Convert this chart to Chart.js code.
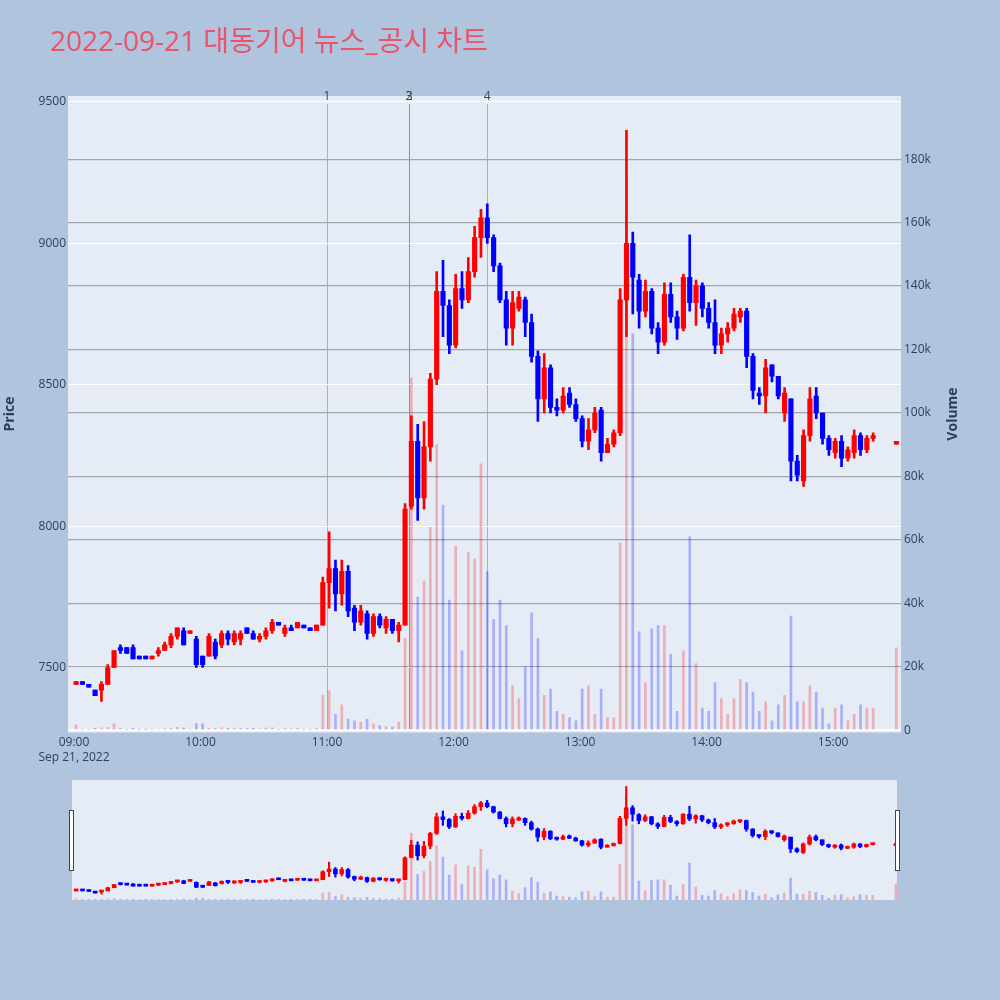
<!DOCTYPE html>
<html><head><meta charset="utf-8">
<script src="https://cdn.jsdelivr.net/npm/chart.js@4.4.0/dist/chart.umd.min.js"></script>
<style>
html,body{margin:0;padding:0;background:#B0C4DE;}
#wrap{position:relative;width:1000px;height:1000px;overflow:hidden;}
canvas{position:absolute;}
</style></head>
<body><div id="wrap">
<canvas id="main" width="1000" height="1000" style="left:0;top:0;width:1000px;height:1000px;"></canvas>
<canvas id="nav" width="850" height="130" style="left:60px;top:775px;width:850px;height:130px;"></canvas>
</div>
<script>
const chartTitle = '2022-09-21 대동기어 뉴스_공시 차트';
const dateLabel = 'Sep 21, 2022';
const priceTitle = 'Price';
const volumeTitle = 'Volume';

// representative minute of each (3-minute) candle
const times = [
 '09:01','09:04','09:07','09:10','09:13','09:16','09:19','09:22','09:25','09:28','09:31','09:34','09:37','09:40','09:43','09:46','09:49','09:52','09:55','09:58',
 '10:01','10:04','10:07','10:10','10:13','10:16','10:19','10:22','10:25','10:28','10:31','10:34','10:37','10:40','10:43','10:46','10:49','10:52','10:55','10:58',
 '11:01','11:04','11:07','11:10','11:13','11:16','11:19','11:22','11:25','11:28','11:31','11:34','11:37','11:40','11:43','11:46','11:49','11:52','11:55','11:58',
 '12:01','12:04','12:07','12:10','12:13','12:16','12:19','12:22','12:25','12:28','12:31','12:34','12:37','12:40','12:43','12:46','12:49','12:52','12:55','12:58',
 '13:01','13:04','13:07','13:10','13:13','13:16','13:19','13:22','13:25','13:28','13:31','13:34','13:37','13:40','13:43','13:46','13:49','13:52','13:55','13:58',
 '14:01','14:04','14:07','14:10','14:13','14:16','14:19','14:22','14:25','14:28','14:31','14:34','14:37','14:40','14:43','14:46','14:49','14:52','14:55','14:58',
 '15:01','15:04','15:07','15:10','15:13','15:16','15:19','15:30'
];
const opens = [
 7440,7450,7440,7420,7420,7440,7500,7570,7570,7570,7540,7540,7530,7550,7560,7580,7610,7630,7620,7600,
 7540,7540,7590,7580,7620,7590,7600,7640,7620,7600,7610,7630,7660,7620,7640,7640,7650,7640,7630,7650,
 7800,7850,7760,7840,7710,7660,7690,7620,7680,7640,7670,7630,7650,8070,8300,8100,8280,8520,8830,8780,
 8640,8840,8800,8900,9020,9090,9020,8920,8800,8700,8770,8800,8720,8600,8450,8560,8420,8410,8470,8430,
 8380,8300,8340,8410,8260,8290,8330,8800,9000,8870,8760,8830,8700,8650,8820,8740,8700,8880,8790,8850,
 8770,8720,8640,8680,8700,8740,8760,8600,8470,8460,8570,8530,8400,8450,8230,8160,8320,8460,8400,8310,
 8260,8300,8240,8260,8320,8270,8310,8290
];
const highs = [
 7450,7450,7440,7420,7450,7510,7560,7580,7570,7580,7540,7540,7540,7570,7590,7620,7640,7640,7630,7610,
 7540,7620,7600,7630,7630,7630,7630,7640,7630,7620,7640,7670,7660,7650,7650,7660,7650,7640,7650,7820,
 7980,7880,7880,7860,7720,7720,7700,7690,7690,7680,7670,7660,8080,8390,8360,8370,8540,8900,8940,8800,
 8890,8900,8950,9060,9120,9140,9030,8930,8830,8830,8830,8810,8750,8620,8610,8570,8450,8490,8490,8450,
 8390,8380,8420,8420,8310,8340,8840,9400,9040,8890,8870,8840,8720,8860,8860,8760,8890,9030,8870,8860,
 8790,8800,8700,8720,8770,8770,8770,8610,8490,8590,8570,8530,8490,8450,8250,8340,8490,8490,8400,8320,
 8310,8320,8280,8340,8330,8320,8330,8300
];
const lows = [
 7440,7440,7430,7400,7380,7440,7500,7550,7550,7530,7530,7530,7530,7540,7560,7570,7600,7580,7620,7500,
 7500,7540,7530,7570,7580,7580,7580,7620,7600,7590,7600,7620,7650,7610,7630,7640,7640,7630,7630,7650,
 7710,7700,7720,7680,7630,7650,7600,7610,7640,7620,7620,7590,7650,8060,8020,8060,8230,8500,8670,8610,
 8630,8770,8790,8880,8950,9000,8900,8790,8640,8640,8760,8670,8580,8370,8400,8400,8390,8400,8420,8370,
 8280,8270,8330,8230,8260,8280,8320,8670,8750,8700,8740,8680,8610,8640,8720,8660,8690,8760,8710,8740,
 8700,8610,8610,8650,8690,8720,8560,8450,8430,8400,8510,8450,8370,8160,8160,8140,8300,8380,8290,8250,
 8240,8210,8230,8240,8250,8260,8300,8290
];
const closes = [
 7450,7440,7430,7400,7440,7500,7560,7560,7550,7530,7530,7530,7540,7560,7580,7610,7640,7580,7630,7510,
 7510,7610,7540,7620,7600,7620,7620,7620,7600,7610,7630,7660,7650,7640,7630,7660,7640,7630,7650,7800,
 7850,7760,7840,7700,7660,7700,7620,7680,7650,7670,7630,7650,8060,8300,8100,8280,8520,8830,8780,8640,
 8840,8800,8900,9020,9090,9020,8920,8800,8700,8790,8810,8720,8600,8450,8560,8420,8410,8460,8430,8380,
 8300,8340,8400,8260,8290,8330,8800,9000,8880,8760,8830,8700,8650,8820,8740,8700,8880,8790,8850,8770,
 8720,8640,8680,8700,8750,8760,8600,8480,8460,8560,8530,8460,8470,8230,8180,8320,8450,8400,8310,8270,
 8300,8240,8270,8320,8270,8310,8320,8300
];
const volumes = [
 1700,300,300,600,800,900,2000,500,300,600,200,200,300,400,500,600,900,800,300,2200,
 2000,600,500,800,600,700,600,500,600,400,700,800,300,500,400,600,300,300,600,11000,
 12500,5000,8000,3500,3000,2500,3500,2000,1500,1200,1000,2500,29000,111000,42000,47000,64000,90000,71000,41000,
 58000,25000,56000,54000,84000,50000,35000,41000,33000,14000,10000,20000,37000,29000,11000,13000,6000,5000,4000,3000,
 13000,14000,5000,13000,4000,4000,59000,175000,125000,31000,15000,32000,33000,33000,24000,6000,25000,61000,21000,7000,
 6000,15000,10000,5000,10000,16000,15000,12000,6000,9000,3000,8000,11000,36000,9000,9000,14000,12000,7000,2000,
 7000,8000,3000,5000,8000,7000,7000,26000
];
const xTickLabels = ['09:00','10:00','11:00','12:00','13:00','14:00','15:00'];
const priceTicks = [7500, 8000, 8500, 9000, 9500];
const volumeTicks = [0, 20000, 40000, 60000, 80000, 100000, 120000, 140000, 160000, 180000];
const volumeTickLabels = ['0','20k','40k','60k','80k','100k','120k','140k','160k','180k'];
const newsTimes = ['11:00','11:39','11:39','12:16'];
const newsLabels = ['1','2','3','4'];

const toMin = s => { const p = s.split(':'); return (Number(p[0]) - 9) * 60 + Number(p[1]); };
const xs = times.map(toMin);
const up = closes.map((c, i) => c > opens[i]);
const candleColors = up.map(u => u ? '#ff0000' : '#0000ff');
const volColors = up.map(u => u ? 'rgba(255,0,0,0.26)' : 'rgba(0,0,255,0.26)');
const wickData = xs.map((x, i) => ({x: x, y: [lows[i], highs[i]]}));
const bodyData = xs.map((x, i) => ({x: x, y: [opens[i], closes[i]]}));
const volData = xs.map((x, i) => ({x: x, y: volumes[i]}));
const xTickVals = xTickLabels.map(toMin);

const FONT = '"Open Sans", "Noto Sans CJK KR", sans-serif';
const TXT = '#2a3f5f';

function datasets(bodyW, wickW, volW) {
  return [
    {type:'bar', label:'vol', data: volData, yAxisID:'y1', backgroundColor: volColors, barThickness: volW, grouped:false, order:3},
    {type:'bar', label:'wick', data: wickData, yAxisID:'y', backgroundColor: candleColors, barThickness: wickW, grouped:false, order:2},
    {type:'bar', label:'body', data: bodyData, yAxisID:'y', backgroundColor: candleColors, barThickness: bodyW, minBarLength: 2, grouped:false, order:1}
  ];
}

const mainDeco = {
  id: 'mainDeco',
  beforeDraw(chart) {
    const {ctx, chartArea: a} = chart;
    const xs_ = chart.scales.x;
    ctx.save();
    ctx.fillStyle = '#E5ECF6';
    ctx.fillRect(a.left, a.top, a.right - a.left, a.bottom - a.top);
    ctx.strokeStyle = 'rgba(80,105,250,0.5)';
    ctx.lineWidth = 1;
    newsTimes.forEach(t => {
      const x = Math.round(xs_.getPixelForValue(toMin(t))) + 0.5;
      ctx.beginPath(); ctx.moveTo(x, 104); ctx.lineTo(x, a.bottom - 3); ctx.stroke();
    });
    ctx.restore();
  },
  afterDraw(chart) {
    const {ctx} = chart;
    const xs_ = chart.scales.x;
    ctx.save();
    ctx.fillStyle = '#E9536B';
    ctx.font = '28px ' + FONT;
    ctx.textAlign = 'left'; ctx.textBaseline = 'alphabetic';
    ctx.fillText(chartTitle, 50, 51);
    ctx.fillStyle = '#444';
    ctx.font = '12px ' + FONT;
    ctx.textAlign = 'center'; ctx.textBaseline = 'middle';
    newsTimes.forEach((t, i) => {
      ctx.fillText(newsLabels[i], xs_.getPixelForValue(toMin(t)), 97);
    });
    ctx.fillStyle = TXT;
    ctx.fillText(dateLabel, xs_.getPixelForValue(xTickVals[0]), 758);
    ctx.font = 'bold 14px ' + FONT;
    ctx.save(); ctx.translate(10, 414); ctx.rotate(-Math.PI / 2); ctx.fillText(priceTitle, 0, 0); ctx.restore();
    ctx.save(); ctx.translate(953, 414); ctx.rotate(-Math.PI / 2); ctx.fillText(volumeTitle, 0, 0); ctx.restore();
    ctx.restore();
  }
};

new Chart(document.getElementById('main'), {
  data: { datasets: datasets(4.5, 2, 2) },
  options: {
    responsive: false, animation: false,
    layout: { padding: { left: 0, right: 0, top: 96, bottom: 0 } },
    plugins: { legend: {display:false}, tooltip: {enabled:false}, title: {display:false} },
    scales: {
      x: {
        type: 'linear', min: -2.85, max: 392.2, offset: false,
        afterFit: s => { s.height = 267.5; },
        afterBuildTicks: s => { s.ticks = xTickVals.map(v => ({value: v})); },
        grid: { display: false, drawTicks: false },
        border: { display: false },
        ticks: { autoSkip: false, maxRotation: 0, padding: 3, color: TXT, font: { family: FONT, size: 12 },
          callback: (v) => { const i = xTickVals.indexOf(v); return i >= 0 ? xTickLabels[i] : ''; } }
      },
      y: {
        type: 'linear', position: 'left', min: 7270, max: 9521, beginAtZero: false,
        afterFit: s => { s.width = 68; },
        afterBuildTicks: s => { s.ticks = priceTicks.map(v => ({value: v})); },
        grid: { color: '#ffffff', lineWidth: 1, drawTicks: false },
        border: { display: false },
        ticks: { autoSkip: false, padding: 2, color: TXT, font: { family: FONT, size: 12 },
          callback: v => String(v) }
      },
      y1: {
        type: 'linear', position: 'right', min: -700, max: 199900, beginAtZero: false,
        afterFit: s => { s.width = 99; },
        afterBuildTicks: s => { s.ticks = volumeTicks.map(v => ({value: v})); },
        grid: { color: c => c.tick && c.tick.value === 0 ? '#ffffff' : '#a2a5ab',
                lineWidth: c => c.tick && c.tick.value === 0 ? 2 : 1.2, drawTicks: false },
        border: { display: false },
        ticks: { autoSkip: false, padding: 3, color: TXT, font: { family: FONT, size: 12 },
          callback: v => { const i = volumeTicks.indexOf(v); return i >= 0 ? volumeTickLabels[i] : ''; } }
      }
    }
  },
  plugins: [mainDeco]
});

const navDeco = {
  id: 'navDeco',
  beforeDraw(chart) {
    const {ctx, chartArea: a} = chart;
    ctx.save();
    ctx.fillStyle = '#E5ECF6';
    ctx.fillRect(a.left, a.top, a.right - a.left, a.bottom - a.top);
    ctx.restore();
  },
  afterDraw(chart) {
    const {ctx, chartArea: a} = chart;
    ctx.save();
    ctx.fillStyle = '#ffffff';
    ctx.strokeStyle = '#444';
    ctx.lineWidth = 1;
    const hy = a.top + 30, hh = 60;
    ctx.fillRect(a.left - 2.5, hy, 4, hh); ctx.strokeRect(a.left - 2.5, hy + 0.5, 4, hh);
    ctx.fillRect(a.right - 1.5, hy, 4, hh); ctx.strokeRect(a.right - 1.5, hy + 0.5, 4, hh);
    ctx.restore();
  }
};

new Chart(document.getElementById('nav'), {
  data: { datasets: datasets(4, 1.5, 2) },
  options: {
    responsive: false, animation: false,
    layout: { padding: { left: 12, right: 13, top: 5, bottom: 5 } },
    plugins: { legend: {display:false}, tooltip: {enabled:false} },
    scales: {
      x: { type: 'linear', min: -1, max: 390.5, offset: false, display: false },
      y: { type: 'linear', min: 7270, max: 9521, display: false },
      y1: { type: 'linear', min: -700, max: 199900, display: false }
    }
  },
  plugins: [navDeco]
});
</script>
</body></html>
